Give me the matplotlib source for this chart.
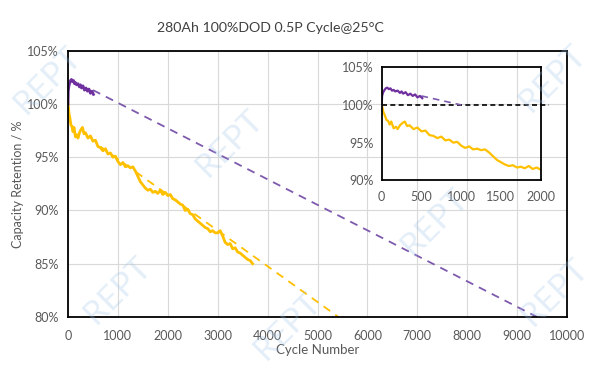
import matplotlib
matplotlib.use("Agg")
import matplotlib.pyplot as plt

plt.rcParams['font.family'] = ['Lato', 'DejaVu Sans']

# ---------------- data ----------------
title = "280Ah 100%DOD 0.5P Cycle@25°C"
x_label = "Cycle Number"
y_label = "Capacity Retention / %"

main_xticks = [0, 1000, 2000, 3000, 4000, 5000, 6000, 7000, 8000, 9000, 10000]
main_yticks = [80, 85, 90, 95, 100, 105]
inset_xticks = [0, 500, 1000, 1500, 2000]
inset_yticks = [90, 95, 100, 105]

yellow_cycles = [0, 10, 20, 40, 60, 80, 100, 120, 150, 180, 200, 230, 260, 290, 320,
                 350, 400, 450, 500, 550, 600, 650, 700, 750, 800, 850, 900, 950,
                 1000, 1050, 1100, 1150, 1200, 1250, 1300, 1350, 1400, 1450, 1500,
                 1550, 1600, 1650, 1700, 1750, 1800, 1850, 1900, 1950, 2000, 2050,
                 2100, 2150, 2200, 2250, 2300, 2350, 2400, 2450, 2500, 2550, 2600,
                 2650, 2700, 2750, 2800, 2850, 2900, 2950, 3000, 3050, 3100, 3150,
                 3200, 3250, 3300, 3350, 3400, 3450, 3500, 3550, 3600, 3650, 3700]
yellow_ret = [100.0, 99.6, 99.1, 98.6, 98.0, 97.9, 97.4, 97.8, 96.9, 97.1, 96.8, 97.3,
              97.6, 97.8, 97.2, 97.3, 96.8, 97.0, 96.5, 96.6, 96.0, 95.9, 95.6, 95.8,
              95.3, 95.4, 95.0, 95.1, 94.6, 94.3, 94.5, 94.1, 94.2, 94.0, 94.1, 93.7,
              93.2, 92.7, 92.4, 92.1, 91.9, 92.0, 91.7, 91.8, 91.6, 91.9, 91.5, 91.7,
              91.4, 91.5, 91.1, 91.0, 90.8, 90.6, 90.5, 90.0, 90.1, 89.7, 89.6, 89.2,
              89.0, 88.8, 88.6, 88.4, 88.3, 88.0, 88.1, 87.9, 87.9, 88.1, 87.6, 87.0,
              86.8, 86.9, 86.4, 86.5, 86.1, 86.0, 85.8, 85.6, 85.4, 85.3, 85.0]

purple_cycles = [0, 5, 15, 30, 50, 70, 90, 110, 130, 150, 170, 200, 230, 250, 270,
                 300, 330, 360, 390, 420, 450, 480, 510]
purple_ret = [100.0, 101.2, 101.6, 101.9, 102.2, 102.3, 102.1, 102.2, 101.9, 102.0,
              101.8, 101.9, 101.6, 101.8, 101.5, 101.7, 101.3, 101.5, 101.2, 101.4,
              101.0, 101.2, 100.9]

yellow_fit_cycles = [650, 5420]
yellow_fit_ret = [96.0, 80.0]
purple_fit_cycles = [500, 9400]
purple_fit_ret = [101.3, 80.0]
purple_fit_inset_cycles = [500, 1000]
purple_fit_inset_ret = [101.2, 100.0]
ref_cycles = [0, 2100]
ref_ret = [100.0, 100.0]

YELLOW = '#FFC000'
PURPLE = '#7030A0'
PURPLE_DASH = '#7E5AAE'
TICK_COLOR = '#595959'
GRID = '#D9D9D9'

fig = plt.figure(figsize=(6.02, 3.74), dpi=100)
fig.patch.set_facecolor('white')

# ---------------- main axes ----------------
ax = fig.add_axes([68/602, 1-317/374, (567-68)/602, (317-50.7)/374])
ax.set_xlim(0, 10000)
ax.set_ylim(80, 105)
ax.set_xticks(main_xticks)
ax.set_yticks(main_yticks)
ax.set_yticklabels([f"{v}%" for v in main_yticks])
ax.tick_params(length=0, labelsize=9, colors=TICK_COLOR)
ax.tick_params(axis='x', pad=9)
ax.tick_params(axis='y', pad=7)
ax.grid(True, color=GRID, linewidth=0.8)
ax.set_axisbelow(True)
for s in ax.spines.values():
    s.set_linewidth(1.3)
    s.set_color('black')

ax.plot(yellow_fit_cycles, yellow_fit_ret, color=YELLOW, lw=1.3, dashes=(4.5, 3.5))
ax.plot(purple_fit_cycles, purple_fit_ret, color=PURPLE_DASH, lw=1.3, dashes=(4.5, 3.5))
ax.plot(yellow_cycles, yellow_ret, color=YELLOW, lw=2.0)
ax.plot(purple_cycles, purple_ret, color=PURPLE, lw=2.0)

ax.set_xlabel(x_label, fontsize=9.5, color=TICK_COLOR, labelpad=2)
ax.set_ylabel(y_label, fontsize=9, color=TICK_COLOR, labelpad=2)

fig.text(270/602, 1-28/374, title, ha='center', va='center', fontsize=10.2, color='#404040')

# ---------------- inset ----------------
ins = fig.add_axes([381.7/602, 1-180.3/374, (540.7-381.7)/602, (180.3-67.3)/374])
ins.patch.set_alpha(0)
ins.set_xlim(0, 2000)
ins.set_ylim(90, 105)
ins.set_xticks(inset_xticks)
ins.set_yticks(inset_yticks)
ins.set_yticklabels([f"{v}%" for v in inset_yticks])
ins.tick_params(length=0, labelsize=9, colors=TICK_COLOR)
ins.tick_params(axis='x', pad=8)
ins.tick_params(axis='y', pad=6)
for s in ins.spines.values():
    s.set_linewidth(1.3)
    s.set_color('black')
ins.plot(ref_cycles, ref_ret, color='black', lw=1.2, dashes=(3, 2), clip_on=False)
ins.plot(purple_fit_inset_cycles, purple_fit_inset_ret, color=PURPLE_DASH, lw=1.2, dashes=(4, 3))
ins.plot(yellow_cycles, yellow_ret, color=YELLOW, lw=1.6)
ins.plot(purple_cycles, purple_ret, color=PURPLE, lw=1.6)

# ---------------- watermarks ----------------
wm_pos = [(48, 80), (230, 143), (435, 222), (553, 78), (118, 290), (288, 326),
          (555, 292)]
for (px, py) in wm_pos:
    fig.text(px/602, 1-py/374, "REPT", rotation=45, ha='center', va='center',
             fontsize=24, color='#9DC3E6', alpha=0.28, zorder=10)

fig.savefig('out.png', dpi=100, facecolor='white')
